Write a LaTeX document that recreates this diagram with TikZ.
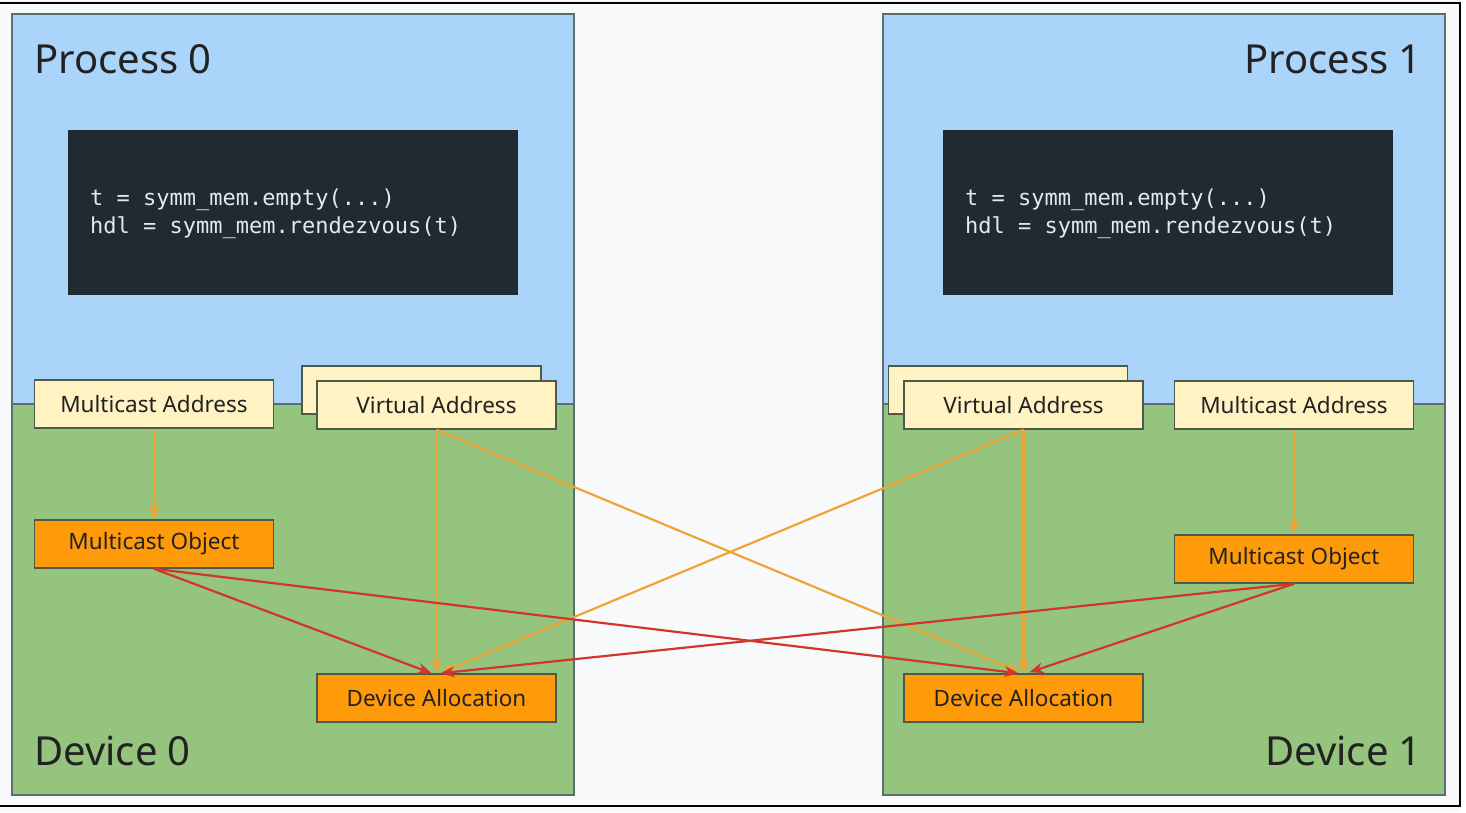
\documentclass[tikz,border=0pt]{standalone}
\usepackage{fontspec}
\setmainfont{Noto Sans}
\setmonofont{DejaVu Sans Mono}
\usetikzlibrary{arrows.meta,calc}
\definecolor{bgc}{HTML}{F8F9FB}
\definecolor{procblue}{HTML}{ABD4FA}
\definecolor{devgreen}{HTML}{94C47E}
\definecolor{panelline}{HTML}{5E6E6E}
\definecolor{codebg}{HTML}{1F2A33}
\definecolor{codefg}{HTML}{E6E8EA}
\definecolor{addrfill}{HTML}{FFF3C4}
\definecolor{objfill}{HTML}{FF9A0A}
\definecolor{boxline}{HTML}{4E5A48}
\definecolor{arrorange}{HTML}{EEA535}
\definecolor{arrred}{HTML}{D2352A}
\definecolor{txt}{HTML}{222222}
\tikzset{
  addr/.style={draw=boxline, line width=1.5pt, fill=addrfill, minimum width=239pt, minimum height=48pt, inner sep=0pt, font=\fontsize{22.5}{26}\selectfont, text=txt},
  obj/.style={draw=boxline, line width=1.5pt, fill=objfill, minimum width=239pt, minimum height=48pt, inner sep=0pt, font=\fontsize{22.5}{26}\selectfont, text=txt},
  title/.style={font=\fontsize{40}{44}\selectfont, text=txt, inner sep=0pt},
  codebox/.style={fill=codebg, draw=codebg, minimum width=449pt, minimum height=164pt, inner sep=0pt},
  codetext/.style={font=\ttfamily\fontsize{22}{28}\selectfont, text=codefg, inner sep=0pt, anchor=base west},
  oarr/.style={draw=arrorange, line width=2.2pt, -{Stealth[length=14pt,width=11pt]}},
  rarr/.style={draw=arrred, line width=2.2pt, -{Stealth[length=14pt,width=11pt]}},
  frameline/.style={draw=black, line width=1.6pt}
}
\begin{document}
\begin{tikzpicture}[x=1pt,y=-1pt]
\useasboundingbox (0,0) rectangle (1466,812);
\fill[bgc] (0,0) rectangle (1466,812);
\fill[white] (1461,0) rectangle (1466,812);
% frame
\draw[frameline] (0,3) -- (1460,3) -- (1460,806) -- (0,806);
% left panel
\fill[procblue] (12,14) rectangle (574,404);
\fill[devgreen] (12,404) rectangle (574,795);
\draw[panelline, line width=1.5pt] (12,404) -- (574,404);
\draw[panelline, line width=1.5pt] (12,14) rectangle (574,795);
% right panel
\fill[procblue] (883,14) rectangle (1445,404);
\fill[devgreen] (883,404) rectangle (1445,795);
\draw[panelline, line width=1.5pt] (883,404) -- (1445,404);
\draw[panelline, line width=1.5pt] (883,14) rectangle (1445,795);
% titles
\node[title, anchor=base west] (p0) at (34,73) {Process 0};
\node[title, anchor=base east] (p1) at (1422,73) {Process 1};
\node[title, anchor=base west] (d0) at (34,765) {Device 0};
\node[title, anchor=base east] (d1) at (1422,765) {Device 1};
% code boxes
\node[codebox] (codeL) at (292.5,212) {};
\node[codetext] (codeL1) at (90,205) {t = symm\_mem.empty(...)};
\node[codetext] (codeL2) at (90,233) {hdl = symm\_mem.rendezvous(t)};
\node[codebox] (codeR) at (1167.5,212) {};
\node[codetext] (codeR1) at (965,205) {t = symm\_mem.empty(...)};
\node[codetext] (codeR2) at (965,233) {hdl = symm\_mem.rendezvous(t)};
% left boxes
\node[addr] (maL) at (154,404) {Multicast Address};
\node[addr] (vaLb) at (421.5,390) {};
\node[addr] (vaL) at (436.5,405) {Virtual Address};
\node[obj] (moL) at (154,544) {Multicast Object};
\node[obj] (daL) at (436.5,698) {Device Allocation};
% right boxes
\node[addr] (vaRb) at (1008,390) {};
\node[addr] (vaR) at (1023.5,405) {Virtual Address};
\node[addr] (maR) at (1294,405) {Multicast Address};
\node[obj] (moR) at (1294,559) {Multicast Object};
\node[obj] (daR) at (1023.5,698) {Device Allocation};
% arrow end points
\coordinate (daLa) at ($(daL.north)+(-5,0)$);
\coordinate (daLb) at ($(daL.north)+(5,-1)$);
\coordinate (daLc) at ($(daL.north)+(4,0)$);
\coordinate (daRa) at ($(daR.north)+(-5,0)$);
\coordinate (daRb) at ($(daR.north)+(6,-1)$);
\coordinate (daRc) at ($(daR.north)+(-4,-1)$);
% orange arrows
\draw[oarr] (maL.south) -- (moL.north);
\draw[oarr] (maR.south) -- (moR.north);
\draw[oarr] (vaL.south) -- (daL.north);
\draw[oarr] (vaR.south) -- (daR.north);
\draw[oarr] (vaL.south) -- (daRc);
\draw[oarr] (vaR.south) -- (daLb);
% red arrows
\draw[rarr] (moL.south) -- (daLa);
\draw[rarr] (moL.south) -- (daRa);
\draw[rarr] (moR.south) -- (daRb);
\draw[rarr] (moR.south) -- (daLc);
\end{tikzpicture}
\end{document}
